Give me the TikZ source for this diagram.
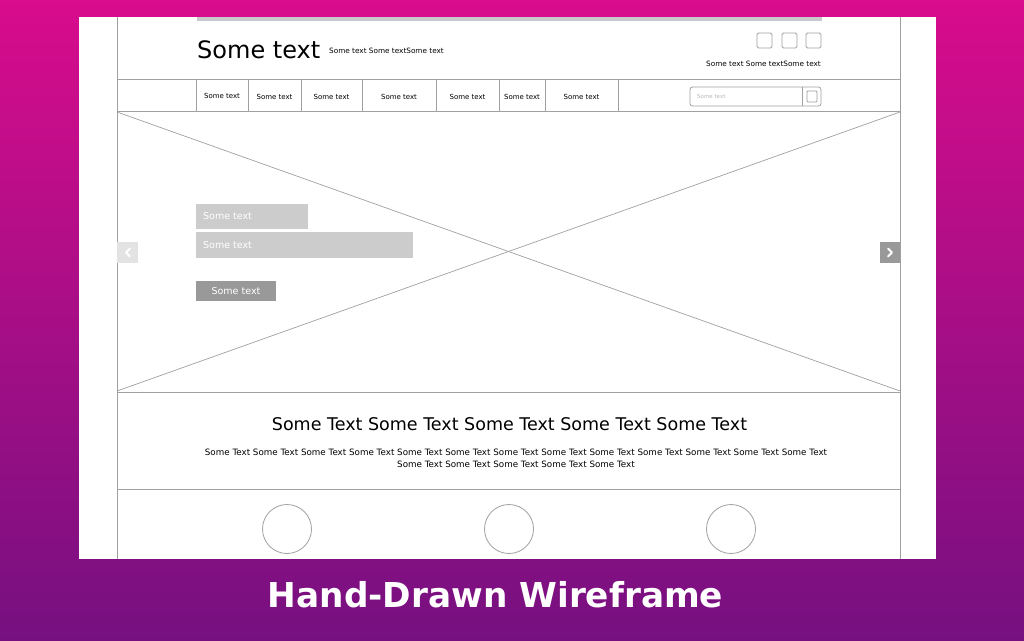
\documentclass[tikz,border=0pt]{standalone}
\usepackage{fontspec}
\setmainfont{DejaVu Sans}
\usetikzlibrary{positioning}
\definecolor{bgtop}{RGB}{216,12,140}
\definecolor{bgbottom}{RGB}{118,16,128}
\definecolor{framegray}{RGB}{160,160,160}
\definecolor{lightbtn}{RGB}{204,204,204}
\definecolor{darkbtn}{RGB}{153,153,153}
\definecolor{topbar}{RGB}{200,200,204}
\tikzset{
  frameline/.style={draw=framegray, line width=0.8pt},
  navlabel/.style={font=\fontsize{7}{8}\selectfont, inner sep=0pt},
  smalllabel/.style={font=\fontsize{7.3}{8}\selectfont, inner sep=0pt},
  slidebox/.style={fill=lightbtn, text=white, font=\fontsize{9.5}{11}\selectfont, inner sep=0pt},
  chevron/.style={draw=white, line width=2pt, line cap=round, line join=round},
  iconbox/.style={draw=framegray, line width=0.8pt, rounded corners=1.5pt}
}
\begin{document}
\begin{tikzpicture}[x=1pt,y=-1pt]
\useasboundingbox (0,0) rectangle (1024,640);
\shade[top color=bgtop, bottom color=bgbottom] (0,0) rectangle (1024,640);
\fill[white] (79,17) rectangle (936,559);
\fill[topbar] (197,17) rectangle (822,21);
% page frame
\draw[frameline] (117,17) -- (117,559);
\draw[frameline] (900,17) -- (900,559);
\draw[frameline] (117,79) -- (900,79);
\draw[frameline] (117,111) -- (900,111);
\draw[frameline] (117,392) -- (900,392);
\draw[frameline] (117,489) -- (900,489);
% header
\node[anchor=base west, inner sep=0pt, font=\fontsize{24}{28}\selectfont] (logo) at (197,58) {Some text};
\node[anchor=base west, smalllabel] (tagline) at (329,53) {Some text Some textSome text};
\draw[iconbox] (757,33) rectangle (772,48);
\draw[iconbox] (782,33) rectangle (797,48);
\draw[iconbox] (806,33) rectangle (821,48);
\node[anchor=base east, smalllabel] (hdrlinks) at (821,66) {Some text Some textSome text};
% navigation
\draw[frameline] (196,79) -- (196,111);
\draw[frameline] (248,79) -- (248,111);
\draw[frameline] (301,79) -- (301,111);
\draw[frameline] (362,79) -- (362,111);
\draw[frameline] (436,79) -- (436,111);
\draw[frameline] (499,79) -- (499,111);
\draw[frameline] (545,79) -- (545,111);
\draw[frameline] (618,79) -- (618,111);
\node[navlabel] (navA) at (222,96) {Some text};
\node[navlabel] (navB) at (274.5,97) {Some text};
\node[navlabel] (navC) at (331.5,97) {Some text};
\node[navlabel] (navD) at (399,97) {Some text};
\node[navlabel] (navE) at (467.5,97) {Some text};
\node[navlabel] (navF) at (522,97) {Some text};
\node[navlabel] (navG) at (581.5,97) {Some text};
\draw[frameline, rounded corners=2.5pt] (690,87) rectangle (821,106);
\draw[frameline] (802,87) -- (802,106);
\draw[iconbox, rounded corners=1pt] (807,91) rectangle (817,102);
\node[anchor=west, inner sep=0pt, text=gray!55, font=\fontsize{5.5}{6}\selectfont] (search) at (697,96.5) {Some text};
% hero image
\draw[framegray, line width=0.7pt] (117,112) -- (900,391);
\draw[framegray, line width=0.7pt] (117,391) -- (900,112);
\fill[lightbtn] (196,204) rectangle (308,229);
\node[anchor=west, slidebox] (slideA) at (203,216.5) {Some text};
\fill[lightbtn] (196,232) rectangle (413,258);
\node[anchor=west, slidebox] (slideB) at (203,245) {Some text};
\fill[darkbtn] (196,281) rectangle (276,301);
\node[slidebox, fill=none] (slideBtn) at (236,291) {Some text};
\fill[gray!22] (117,242) rectangle (138,263);
\draw[chevron] (130,248.5) -- (126,252.5) -- (130,256.5);
\fill[darkbtn] (880,242) rectangle (900,263);
\draw[chevron] (888,248.5) -- (892,252.5) -- (888,256.5);
% text block
\node[inner sep=0pt, font=\fontsize{17.5}{20}\selectfont] (headline) at (509.5,424) {Some Text Some Text Some Text Some Text Some Text};
\node[inner sep=0pt, align=center, font=\fontsize{8.75}{12}\selectfont] (bodytext) at (516,458) {Some Text Some Text Some Text Some Text Some Text Some Text Some Text Some Text Some Text Some Text Some Text Some Text Some Text\\Some Text Some Text Some Text Some Text Some Text};
% footer
\node[circle, frameline, minimum size=49pt, inner sep=0pt] (circA) at (287,529) {};
\node[circle, frameline, minimum size=49pt, inner sep=0pt] (circB) at (509,529) {};
\node[circle, frameline, minimum size=49pt, inner sep=0pt] (circC) at (731,529) {};
% title
\node[text=white, font=\bfseries\fontsize{34.3}{40}\selectfont] (title) at (495.5,595) {Hand-Drawn Wireframe};
\end{tikzpicture}
\end{document}
